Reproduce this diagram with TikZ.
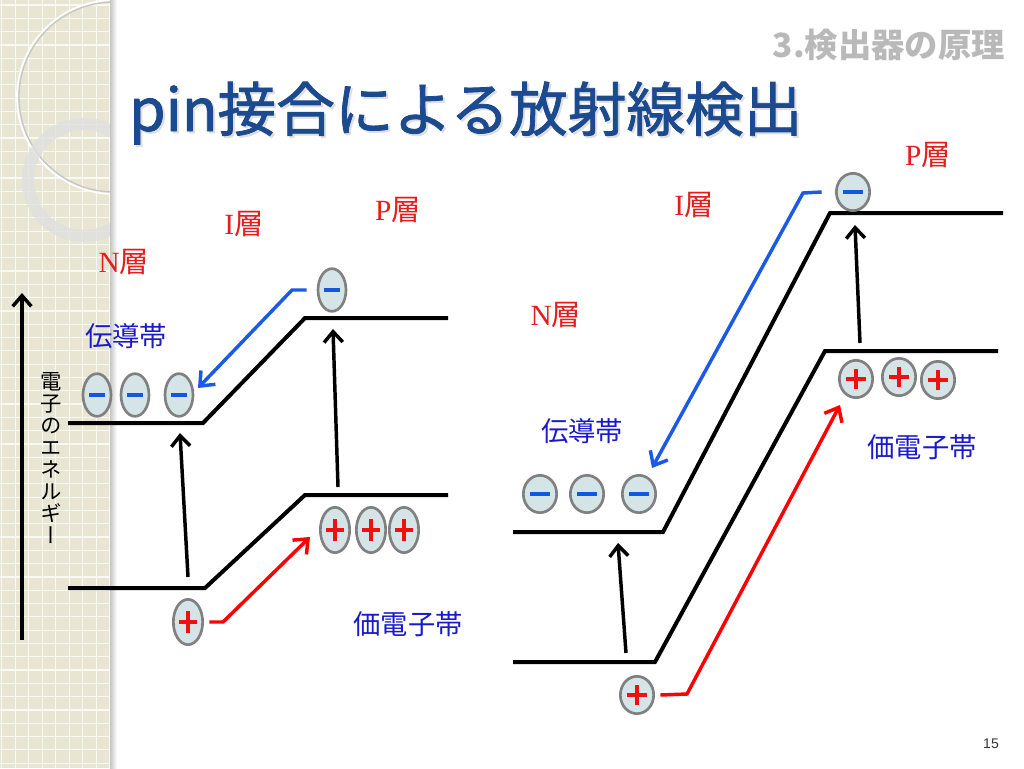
\documentclass[tikz,border=0pt]{standalone}
\usepackage{fontspec}
\setmainfont{Liberation Serif}
\setsansfont{Liberation Sans}
\newfontfamily\cjk{Noto Sans CJK JP}
\newfontfamily\cjkt[FakeBold=1.4]{Noto Sans CJK JP}
\newfontfamily\cjkv[RawFeature=+vert]{Noto Sans CJK JP}
\usetikzlibrary{shapes.geometric,arrows.meta}
\definecolor{strip}{HTML}{E8E5D2}
\definecolor{titleblue}{HTML}{1B4A8F}
\definecolor{cgray}{HTML}{808080}
\definecolor{cfill}{HTML}{D5E5E7}
\definecolor{cblue}{HTML}{1258DC}
\definecolor{cred}{HTML}{EE1111}
\definecolor{abblue}{HTML}{1A5AE6}
\definecolor{lblred}{HTML}{E41E1E}
\definecolor{lblblue}{HTML}{1A1ACC}
\tikzset{
  carrier/.style={ellipse, draw=cgray, line width=2pt, fill=cfill, inner sep=0pt},
  eL/.style={carrier, minimum width=21pt, minimum height=32pt,
    path picture={\draw[cblue, line width=3.2pt] ([xshift=-6pt]path picture bounding box.center) -- ([xshift=6pt]path picture bounding box.center);}},
  eR/.style={carrier, minimum width=25pt, minimum height=28pt,
    path picture={\draw[cblue, line width=3.2pt] ([xshift=-7.5pt]path picture bounding box.center) -- ([xshift=7.5pt]path picture bounding box.center);}},
  hL/.style={carrier, minimum width=22pt, minimum height=34pt,
    path picture={\draw[cred, line width=3.2pt] ([xshift=-6.5pt]path picture bounding box.center) -- ([xshift=6.5pt]path picture bounding box.center);
      \draw[cred, line width=3.2pt] ([yshift=-8.5pt]path picture bounding box.center) -- ([yshift=8.5pt]path picture bounding box.center);}},
  hR/.style={carrier, minimum width=25pt, minimum height=28pt,
    path picture={\draw[cred, line width=3.2pt] ([xshift=-7.5pt]path picture bounding box.center) -- ([xshift=7.5pt]path picture bounding box.center);
      \draw[cred, line width=3.2pt] ([yshift=-7.5pt]path picture bounding box.center) -- ([yshift=7.5pt]path picture bounding box.center);}},
  band/.style={line width=3pt, line join=miter},
  kick/.style={line width=2.6pt, -{Straight Barb[length=8pt,width=14pt]}},
  eflow/.style={abblue, line width=2.6pt, -{Straight Barb[length=9pt,width=15pt]}},
  hflow/.style={red, line width=2.6pt, -{Straight Barb[length=9pt,width=15pt]}},
  layer/.style={text=lblred, font=\fontsize{22}{22}\selectfont, inner sep=0pt},
  bandlbl/.style={text=lblblue, font=\cjk\fontsize{20.5}{20.5}\selectfont, inner sep=0pt},
}
\begin{document}
\begin{tikzpicture}[x=0.75pt,y=-0.75pt]
\useasboundingbox (0,0) rectangle (1024,768);
\fill[white] (0,0) rectangle (1024,768);
% left decorative strip
\fill[strip] (0,0) rectangle (112,768);
\foreach \i in {0,...,8} \draw[white!75!strip, line width=0.9pt] (1.8+\i*13.5,0) -- (1.8+\i*13.5,768);
\foreach \j in {0,...,57} \draw[white!75!strip, line width=0.9pt] (0,5+\j*13.3) -- (112,5+\j*13.3);
\begin{scope}
  \clip (0,0) rectangle (112,768);
  \draw[gray!45, line width=1pt] (114,97) circle[radius=95];
  \draw[white, line width=1.3pt] (114,97) circle[radius=97];
  \draw[gray!25, opacity=0.8, line width=9pt] (84,180) circle[radius=56];
\end{scope}
\shade[left color=gray!45, right color=white] (110,0) rectangle (117,768);
% header
\node[anchor=east, text=gray!55, font=\cjk\bfseries\fontsize{25}{25}\selectfont, inner sep=0pt] (sect) at (1005,45) {3.検出器の原理};
\node[anchor=base west, text=gray!25, font=\cjkt\fontsize{44}{44}\selectfont, inner sep=0pt] (titleshadow) at (131,133) {pin接合による放射線検出};
\node[anchor=base west, text=titleblue, font=\cjkt\fontsize{44}{44}\selectfont, inner sep=0pt] (title) at (129,131) {pin接合による放射線検出};
% energy axis
\coordinate (axb) at (22,640);
\coordinate (axt) at (22,293);
\draw[line width=2.6pt, -{Straight Barb[length=8pt,width=14pt]}] (axb) -- (axt);
\node[font=\cjkv\fontsize{16}{16.5}\selectfont, align=center, inner sep=0pt] (elabel) at (51,458) {電\\子\\の\\エ\\ネ\\ル\\ギ\\ー};
% ===== left diagram =====
\draw[band] (68,423) -- (203,423) -- (305,318) -- (448,318);
\draw[band] (68,588) -- (205,588) -- (305,495) -- (448,495);
\node[layer] (nL) at (124,262) {N\cjk 層};
\node[layer] (iL) at (244,224) {I\cjk 層};
\node[layer] (pL) at (398,210) {P\cjk 層};
\node[bandlbl] (cbL) at (126,336) {伝導帯};
\node[bandlbl] (vbL) at (408,624) {価電子帯};
\node[eL] (eL1) at (97,395) {};
\node[eL] (eL2) at (135,395) {};
\node[eL] (eL3) at (179,395) {};
\node[eL] (eLt) at (332,290) {};
\node[hL] (hL1) at (335,530) {};
\node[hL] (hL2) at (371,530) {};
\node[hL] (hL3) at (404,530) {};
\node[hL] (hLb) at (188,622) {};
\coordinate (kL1s) at (188,577); \coordinate (kL1t) at (180,433);
\coordinate (kL2s) at (338,487); \coordinate (kL2t) at (333,329);
\draw[kick] (kL1s) -- (kL1t);
\draw[kick] (kL2s) -- (kL2t);
\coordinate (bLc) at (292,290); \coordinate (bLt) at (198,388);
\draw[eflow] ([xshift=-7.5pt]eLt.west) -- (bLc) -- (bLt);
\coordinate (rLc) at (223,622); \coordinate (rLt) at (310,537);
\draw[hflow] ([xshift=4pt]hLb.east) -- (rLc) -- (rLt);
% ===== right diagram =====
\draw[band] (513,532) -- (663,532) -- (830,213) -- (1003,213);
\draw[band] (513,662) -- (655,662) -- (825,351) -- (998,351);
\node[layer] (pR) at (928,155) {P\cjk 層};
\node[layer] (iR) at (694,205) {I\cjk 層};
\node[layer] (nR) at (556,315) {N\cjk 層};
\node[bandlbl] (cbR) at (582,431) {伝導帯};
\node[bandlbl] (vbR) at (922,447) {価電子帯};
\node[eR] (eR1) at (540,494) {};
\node[eR] (eR2) at (587,494) {};
\node[eR] (eR3) at (639,494) {};
\node[eR] (eRt) at (853,192) {};
\node[hR] (hR1) at (856,379) {};
\node[hR] (hR2) at (899,377) {};
\node[hR] (hR3) at (938,380) {};
\node[hR] (hRb) at (637,695) {};
\coordinate (kR1s) at (626,653); \coordinate (kR1t) at (618,543);
\coordinate (kR2s) at (860,343); \coordinate (kR2t) at (855,225);
\draw[kick] (kR1s) -- (kR1t);
\draw[kick] (kR2s) -- (kR2t);
\coordinate (bRc) at (803,193); \coordinate (bRt) at (652,468);
\draw[eflow] ([xshift=-10pt]eRt.west) -- (bRc) -- (bRt);
\coordinate (rRc) at (687,694); \coordinate (rRt) at (840,405);
\draw[hflow] ([xshift=4pt]hRb.east) -- (rRc) -- (rRt);
% page number
\node[font=\sffamily\fontsize{10.5}{10.5}\selectfont, text=black!80] (pg) at (991,744) {15};
\end{tikzpicture}
\end{document}
